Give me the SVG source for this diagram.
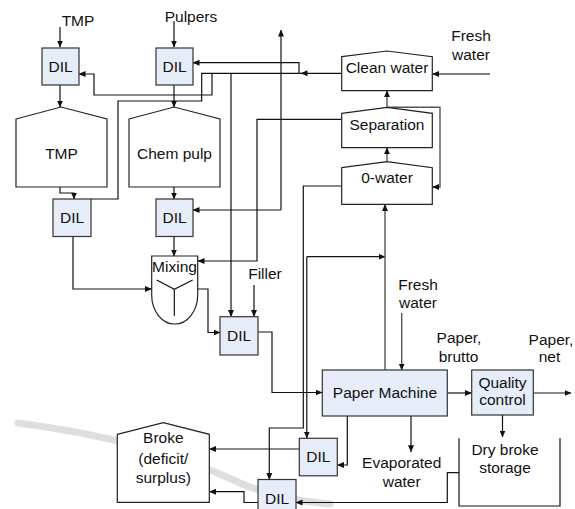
<svg xmlns="http://www.w3.org/2000/svg" width="575" height="509" viewBox="0 0 575 509">
<style>
text{font-family:"Liberation Sans",Arial,sans-serif;font-size:15.5px;fill:#111;text-anchor:middle}
.dil{fill:#e6ecf8;stroke:#333;stroke-width:1.2}
.tank{fill:#fff;stroke:#222;stroke-width:1.2}
.c{fill:none;stroke:#111;stroke-width:1.2}
.g{fill:none;stroke:#555;stroke-width:1.4}
.a{marker-end:url(#ah)}
</style>
<defs>
<marker id="ah" markerWidth="7" markerHeight="7" refX="6.5" refY="3.5" orient="auto" markerUnits="userSpaceOnUse"><path d="M0,0.5 L7,3.5 L0,6.5 z" fill="#111"/></marker>
</defs>
<path d="M18 423 Q150 440 240 483 Q280 500 330 504" fill="none" stroke="#dedede" stroke-width="7" stroke-linecap="round"/>
<g id="connectors">
<path class="c a" d="M60,27 V47"/>
<path class="c a" d="M60,85 V107"/>
<path class="c a" d="M174,21 V47"/>
<path class="c a" d="M174,85 V107"/>
<path class="c a" d="M60,187 V193 H74 V199"/>
<path class="c a" d="M174,187 V199"/>
<path class="c a" d="M73,237 V289 H151.5"/>
<path class="c a" d="M174,237 V256"/>
<path class="c a" d="M197.5,289 H208 V332.5 H220"/>
<path class="c a" d="M254,285 V316.5"/>
<path class="c a" d="M258,332 H272 V392.5 H322"/>
<path class="c a" d="M341.5,73.3 H301"/>
<path class="c" d="M301,73.3 H201.7 V101 H118 V199 H91"/>
<path class="c a" d="M212,73.3 V95 H94 V74 H79"/>
<path class="c a" d="M299,73.3 V62.7 H193"/>
<path class="c a" d="M231,73.3 V316.5"/>
<path class="c a" d="M281,210 H193"/>
<path class="c a" d="M281,210 V30"/>
<path class="c a" d="M341.5,119.3 H257 V261 H198"/>
<path class="c a" d="M341.5,186 H303.3 V428 H269.3 V479.5"/>
<path class="c a" d="M306.8,256.7 H385"/>
<path class="c a" d="M306.8,256.7 V438"/>
<path class="g a" d="M385,370 V204.5"/>
<path class="g a" d="M387,107.3 V90.8"/>
<path class="g a" d="M387,161.7 V147.8"/>
<path class="g a" d="M387,107.3 H440 V187 H432.5"/>
<path class="g a" d="M490,74 H432.5"/>
<path class="g a" d="M401.7,313 V370"/>
<path class="c a" d="M447.3,393 H471.5"/>
<path class="c a" d="M533.3,393 H571"/>
<path class="c a" d="M502.5,415 V437"/>
<path class="c a" d="M411,416 V451.7"/>
<path class="c a" d="M347.3,416 V465 H337.5"/>
<path class="c a" d="M299.3,449 H209.5"/>
<path class="c a" d="M459,472.7 H447.3 V502.5 H296"/>
<path class="c a" d="M258,502.5 H244 V491.7 H209.5"/>
</g>
<g id="lbl-tmp"><text x="78" y="25.5">TMP</text></g>
<g id="lbl-pulpers"><text x="191" y="22">Pulpers</text></g>
<g id="dil1"><rect class="dil" x="42" y="48" width="37" height="37"/><text x="60.5" y="71.5">DIL</text></g>
<g id="dil2"><rect class="dil" x="156" y="48" width="37" height="37"/><text x="174.5" y="71.5">DIL</text></g>
<g id="tmp-tank"><polygon class="tank" points="16,119 61,107 107,119 107,187 16,187"/><text x="61.5" y="158.5">TMP</text></g>
<g id="chem-tank"><polygon class="tank" points="129,119 174,107 220,119 220,187 129,187"/><text x="174.5" y="158.5">Chem pulp</text></g>
<g id="dil3"><rect class="dil" x="53" y="199" width="38" height="37.5"/><text x="72" y="223">DIL</text></g>
<g id="dil4"><rect class="dil" x="156" y="199" width="37" height="37.5"/><text x="174.5" y="223">DIL</text></g>
<g id="mixing"><path class="tank" d="M151.7,256 H197.7 V295 A23,29 0 0 1 151.7,295 Z"/><path class="c" d="M156.7,280 L174.3,289.3 L192.7,280 M174.3,289.3 V315.7"/><text x="174.5" y="272">Mixing</text></g>
<g id="lbl-filler"><text x="265" y="279">Filler</text></g>
<g id="dil-filler"><rect class="dil" x="220" y="316.7" width="38" height="38.3"/><text x="239" y="341">DIL</text></g>
<g id="clean-water"><polygon class="tank" points="341.7,56.7 387,51 432.3,56.7 432.3,90.7 341.7,90.7"/><text x="387" y="73">Clean water</text></g>
<g id="separation"><polygon class="tank" points="341.7,113.3 387,107.3 432.3,113.3 432.3,147.7 341.7,147.7"/><text x="387" y="130">Separation</text></g>
<g id="zero-water"><polygon class="tank" points="341.7,167.7 387,161.7 432.3,167.7 432.3,204.3 341.7,204.3"/><text x="387" y="183.3">0-water</text></g>
<g id="lbl-fresh1"><text x="471" y="40.7">Fresh</text><text x="471" y="60">water</text></g>
<g id="lbl-fresh2"><text x="418" y="290">Fresh</text><text x="418" y="308.3">water</text></g>
<g id="lbl-brutto"><text x="459" y="343.3">Paper,</text><text x="458.5" y="361.7">brutto</text></g>
<g id="lbl-net"><text x="551" y="345">Paper,</text><text x="549.5" y="361.7">net</text></g>
<g id="paper-machine"><rect class="dil" x="322.3" y="370" width="125" height="46"/><text x="385" y="398.3">Paper Machine</text></g>
<g id="quality"><rect class="dil" x="471.7" y="370" width="61.6" height="45"/><text x="502.5" y="388.3">Quality</text><text x="502.5" y="405">control</text></g>
<g id="dry-broke"><path class="c" d="M459,438.3 V506 H560 V438.3"/><text x="505" y="455">Dry broke</text><text x="505" y="473.3">storage</text></g>
<g id="lbl-evap"><text x="401.7" y="468.3">Evaporated</text><text x="401.7" y="486.7">water</text></g>
<g id="broke"><polygon class="tank" points="117.3,434.3 163.3,422.7 209.3,434.3 209.3,502.3 117.3,502.3"/><text x="163.3" y="443.3">Broke</text><text x="163.3" y="464">(deficit/</text><text x="163.3" y="482.7">surplus)</text></g>
<g id="dil5"><rect class="dil" x="299.3" y="438.3" width="38" height="37.5"/><text x="318.3" y="462">DIL</text></g>
<g id="dil6"><rect class="dil" x="258" y="479.5" width="38" height="38"/><text x="277" y="504">DIL</text></g>
</svg>
